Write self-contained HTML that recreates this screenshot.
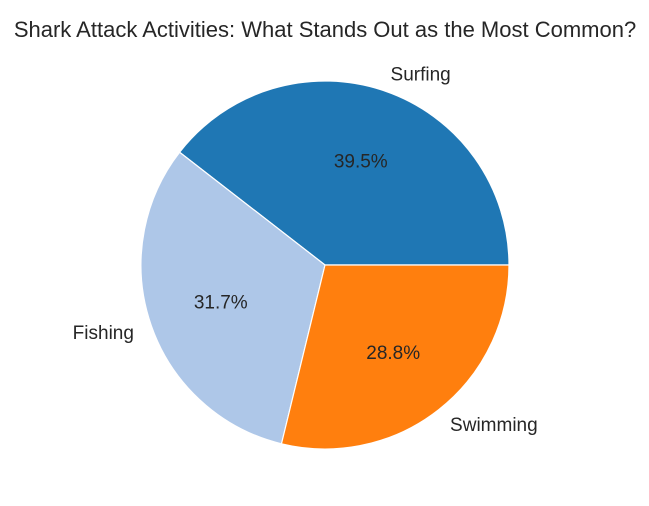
<!DOCTYPE html>
<html>
<head>
<meta charset="utf-8">
<style>
html,body{margin:0;padding:0;background:#fff;}
svg{display:block;font-family:"Liberation Sans","DejaVu Sans",sans-serif;}
</style>
</head>
<body>
<svg id="chart" width="649" height="506" viewBox="0 0 649 506">
<text x="325" y="37" text-anchor="middle" font-size="22" fill="#262626">Shark Attack Activities: What Stands Out as the Most Common?</text>
<g id="slices"></g>
<g id="labels"></g>
</svg>
<script>
const categories = ["Surfing", "Fishing", "Swimming"];
const values = [39.5, 31.7, 28.8];
const colors = ["#1f77b4", "#aec7e8", "#ff7f0e"];

const cx = 325, cy = 265, r = 184;
const NS = "http://www.w3.org/2000/svg";
const total = values.reduce((a, b) => a + b, 0);
const slicesG = document.getElementById("slices");
const labelsG = document.getElementById("labels");
function pt(angDeg, rad) {
  const a = angDeg * Math.PI / 180;
  return [cx + rad * Math.cos(a), cy - rad * Math.sin(a)];
}
let start = 0;
values.forEach((v, i) => {
  const sweep = v / total * 360;
  const end = start + sweep;
  const [x1, y1] = pt(start, r);
  const [x2, y2] = pt(end, r);
  const large = sweep > 180 ? 1 : 0;
  const p = document.createElementNS(NS, "path");
  p.setAttribute("d", `M${cx},${cy} L${x1},${y1} A${r},${r} 0 ${large} 0 ${x2},${y2} Z`);
  p.setAttribute("fill", colors[i]);
  p.setAttribute("stroke", "#fff");
  p.setAttribute("stroke-width", "1.2");
  
  
  slicesG.appendChild(p);

  const mid = start + sweep / 2;
  const [lx, ly] = pt(mid, r * 1.1);
  const t = document.createElementNS(NS, "text");
  t.setAttribute("x", lx);
  t.setAttribute("y", ly + 7);
  const c = Math.cos(mid * Math.PI / 180);
  t.setAttribute("text-anchor", c >= 0 ? "start" : "end");
  t.setAttribute("font-size", "19");
  t.setAttribute("fill", "#262626");
  t.textContent = categories[i];
  
  
  labelsG.appendChild(t);

  const [px, py] = pt(mid, r * 0.6);
  const pc = document.createElementNS(NS, "text");
  pc.setAttribute("x", px);
  pc.setAttribute("y", py + 7);
  pc.setAttribute("text-anchor", "middle");
  pc.setAttribute("font-size", "19");
  pc.setAttribute("fill", "#262626");
  pc.textContent = (v / total * 100).toFixed(1) + "%";
  
  
  labelsG.appendChild(pc);

  start = end;
});
</script>
</body>
</html>
